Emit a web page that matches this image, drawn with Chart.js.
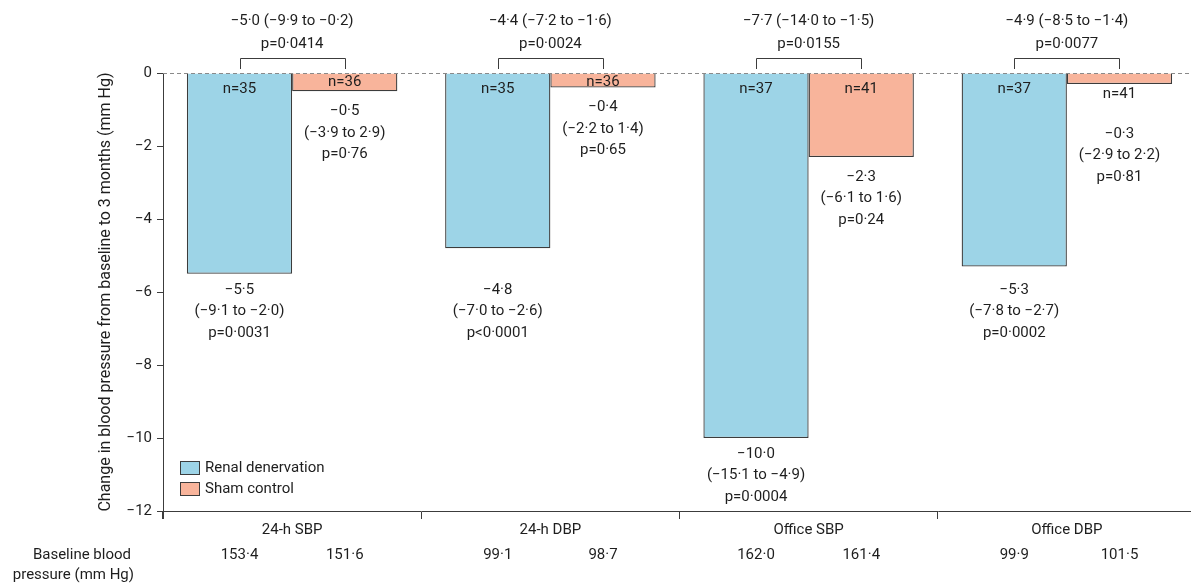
<!DOCTYPE html>
<html lang="en">
<head>
  <meta charset="UTF-8">
  <title>Renal denervation vs sham</title>
  <style>
    body { margin: 0; background: #fff; overflow: hidden; }
    #wrap { width: 1196px; height: 585px; position: relative; }
  </style>
</head>
<body>
  <div id="wrap"><canvas id="grafico"></canvas></div>
  <script src="https://cdn.jsdelivr.net/npm/chart.js"></script>
  <script>
    const categories = ["24-h SBP", "24-h DBP", "Office SBP", "Office DBP"];
    const renalChange = [-5.5, -4.8, -10.0, -5.3];
    const shamChange = [-0.5, -0.4, -2.3, -0.3];
    const renalN = [35, 35, 37, 37];
    const shamN = [36, 36, 41, 41];
    const renalCI = ["(−9·1 to −2·0)", "(−7·0 to −2·6)", "(−15·1 to −4·9)", "(−7·8 to −2·7)"];
    const renalP = ["p=0·0031", "p<0·0001", "p=0·0004", "p=0·0002"];
    const shamCI = ["(−3·9 to 2·9)", "(−2·2 to 1·4)", "(−6·1 to 1·6)", "(−2·9 to 2·2)"];
    const shamP = ["p=0·76", "p=0·65", "p=0·24", "p=0·81"];
    const diffText = ["−5·0 (−9·9 to −0·2)", "−4·4 (−7·2 to −1·6)", "−7·7 (−14·0 to −1·5)", "−4·9 (−8·5 to −1·4)"];
    const diffP = ["p=0·0414", "p=0·0024", "p=0·0155", "p=0·0077"];
    const baselineRenal = ["153·4", "99·1", "162·0", "99·9"];
    const baselineSham = ["151·6", "98·7", "161·4", "101·5"];
    const yTicks = [0, -2, -4, -6, -8, -10, -12];

    const corRenal = "#9dd4e7";
    const corSham = "#f8b49b";
    const corLinha = "#3c3c3c";
    const corTexto = "#1e1e1e";
    const fonte = "15px Roboto, 'Open Sans', sans-serif";

    function fmt(v) {
      return v.toFixed(1).replace("-", "−").replace(".", "·");
    }

    const anotacoes = {
      id: "anotacoes",
      afterDraw(chart) {
        const ctx = chart.ctx;
        const area = chart.chartArea;
        const y = chart.scales.y;
        const y0 = y.getPixelForValue(0);
        const mR = chart.getDatasetMeta(0).data;
        const mS = chart.getDatasetMeta(1).data;

        ctx.save();
        // linha tracejada no zero
        ctx.strokeStyle = "#8a8a8a";
        ctx.lineWidth = 1;
        ctx.setLineDash([4, 3]);
        ctx.beginPath();
        ctx.moveTo(area.left, y0 + 0.5);
        ctx.lineTo(area.right, y0 + 0.5);
        ctx.stroke();
        ctx.setLineDash([]);

        // eixo y prolongado abaixo do eixo x
        ctx.strokeStyle = corLinha;
        ctx.beginPath();
        ctx.moveTo(area.left - 0.5, area.bottom);
        ctx.lineTo(area.left - 0.5, area.bottom + 8);
        ctx.stroke();

        ctx.font = fonte;
        ctx.fillStyle = corTexto;
        ctx.textAlign = "center";
        ctx.textBaseline = "middle";

        categories.forEach((c, i) => {
          const r = mR[i], s = mS[i];
          const rBottom = y.getPixelForValue(renalChange[i]);
          const sBottom = y.getPixelForValue(shamChange[i]);

          // colchete com diferença
          const bx1 = Math.round(r.x) + 0.5, bx2 = Math.round(s.x) + 0.5;
          ctx.strokeStyle = corLinha;
          ctx.lineWidth = 1;
          ctx.beginPath();
          ctx.moveTo(bx1, y0 - 4);
          ctx.lineTo(bx1, y0 - 14.5);
          ctx.lineTo(bx2, y0 - 14.5);
          ctx.lineTo(bx2, y0 - 4);
          ctx.stroke();
          const mx = (r.x + s.x) / 2;
          ctx.fillText(diffText[i], mx, 21);
          ctx.fillText(diffP[i], mx, 44);

          // n dentro das barras
          ctx.fillText("n=" + renalN[i], r.x, y0 + 16);
          const hS = sBottom - y0;
          let shift = 0;
          if (hS < 14) {
            ctx.fillText("n=" + shamN[i], s.x, sBottom + 10);
            shift = 30;
          } else if (hS < 25) {
            ctx.fillText("n=" + shamN[i], s.x, y0 + 9);
          } else {
            ctx.fillText("n=" + shamN[i], s.x, y0 + 16);
          }

          // valores renal
          const ry = Math.max(rBottom + 16, 290);
          ctx.fillText(fmt(renalChange[i]), r.x, ry);
          ctx.fillText(renalCI[i], r.x, ry + 21.5);
          ctx.fillText(renalP[i], r.x, ry + 43);

          // valores sham
          const sy = sBottom + 20 + shift;
          ctx.fillText(fmt(shamChange[i]), s.x, sy);
          ctx.fillText(shamCI[i], s.x, sy + 21.5);
          ctx.fillText(shamP[i], s.x, sy + 43);

          // pressão basal
          ctx.fillText(baselineRenal[i], r.x, 555);
          ctx.fillText(baselineSham[i], s.x, 555);
        });

        ctx.textAlign = "right";
        ctx.fillText("Baseline blood", 131, 555);
        ctx.fillText("pressure (mm Hg)", 134, 575);

        // legenda
        const leg = [["Renal denervation", corRenal, 468], ["Sham control", corSham, 489]];
        leg.forEach(([txt, cor, ly]) => {
          ctx.fillStyle = cor;
          ctx.fillRect(180.5, ly - 6.5, 19, 13);
          ctx.strokeStyle = corLinha;
          ctx.strokeRect(180.5, ly - 6.5, 19, 13);
          ctx.fillStyle = corTexto;
          ctx.textAlign = "left";
          ctx.fillText(txt, 205, ly);
        });
        ctx.restore();
      }
    };

    new Chart(document.getElementById("grafico"), {
      type: "bar",
      data: {
        labels: categories,
        datasets: [
          {
            label: "Renal denervation",
            data: renalChange,
            backgroundColor: corRenal,
            borderColor: corLinha,
            borderWidth: 1.3
          },
          {
            label: "Sham control",
            data: shamChange,
            backgroundColor: corSham,
            borderColor: corLinha,
            borderWidth: 1.3
          }
        ]
      },
      options: {
        responsive: true,
        maintainAspectRatio: false,
        animation: false,
        categoryPercentage: 0.815,
        barPercentage: 1.0,
        layout: { padding: { top: 73, left: 0, right: 0, bottom: 0 } },
        plugins: {
          legend: { display: false },
          tooltip: { enabled: false }
        },
        scales: {
          x: {
            offset: true,
            grid: { offset: true, drawOnChartArea: false, tickLength: 8, color: corLinha },
            border: { color: corLinha, width: 1 },
            ticks: { color: corTexto, font: { size: 15, family: "Roboto" }, padding: 2 },
            afterFit(scale) { scale.height = 74; }
          },
          y: {
            min: -12,
            max: 0,
            afterBuildTicks(scale) { scale.ticks = yTicks.map(v => ({ value: v })); },
            grid: { drawOnChartArea: false, tickLength: 6, color: corLinha },
            border: { color: corLinha, width: 1 },
            ticks: {
              color: corTexto,
              font: { size: 15, family: "Roboto" },
              padding: 5,
              callback: v => String(v).replace("-", "−")
            },
            title: {
              display: true,
              text: "Change in blood pressure from baseline to 3 months (mm Hg)",
              color: corTexto,
              font: { size: 16, family: "Roboto" },
              padding: { top: 96, bottom: 0 }
            },
            afterFit(scale) { scale.width = 163; }
          }
        }
      },
      plugins: [anotacoes]
    });
  </script>
</body>
</html>
